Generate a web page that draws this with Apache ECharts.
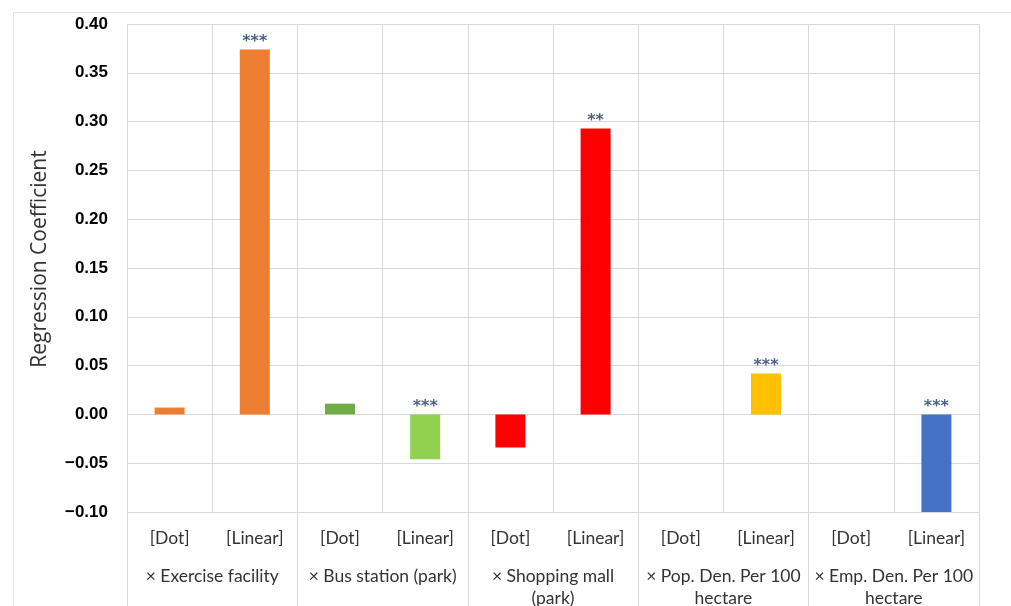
<!DOCTYPE html>
<html>
<head>
<meta charset="utf-8">
<title>Regression Coefficient</title>
<script src="https://cdn.jsdelivr.net/npm/echarts@6/dist/echarts.min.js"></script>
<style>
  html, body { margin: 0; padding: 0; background: #ffffff; }
  #chart { width: 1011px; height: 606px; }
</style>
</head>
<body>
<div id="chart"></div>
<script>
// Model terms (lower axis level) and interacted variables (upper axis level)
const terms = ['[Dot]', '[Linear]', '[Dot]', '[Linear]', '[Dot]', '[Linear]', '[Dot]', '[Linear]', '[Dot]', '[Linear]'];
const groups = [
  '× Exercise facility',
  '× Bus station (park)',
  '× Shopping mall\n(park)',
  '× Pop. Den. Per 100\nhectare',
  '× Emp. Den. Per 100\nhectare'
];

// Regression coefficients, one per term
const coefficients = [0.007, 0.374, 0.011, -0.046, -0.034, 0.293, null, 0.042, null, -0.10];

// Significance markers
const significance = ['', '***', '', '***', '', '**', '', '***', '', '***'];

// Bar fill per term
const barColors = ['#ED7D31', '#ED7D31', '#70AD47', '#92D050', '#FF0000', '#FF0000', '#FFC000', '#FFC000', '#4472C4', '#4472C4'];

// Value axis settings
const yMin = -0.10, yMax = 0.40, yStep = 0.05;

const gridColor = '#d9d9d9';
const catFont = 'Lato, "Open Sans", sans-serif';

const chart = echarts.init(document.getElementById('chart'), null, { renderer: 'canvas' });

const barData = coefficients.map((v, i) => ({
  value: v,
  itemStyle: { color: barColors[i] }
}));

// Markers sit just above the bar top, or above the zero line for negative bars
const starData = coefficients.map((v, i) => ({
  value: [i, v == null ? 0 : Math.max(v, 0)],
  label: { formatter: significance[i] }
}));

chart.setOption({
  animation: false,
  backgroundColor: '#ffffff',
  graphic: [{
    type: 'rect',
    shape: { x: 13.5, y: 12.5, width: 1100, height: 700 },
    style: { fill: 'none', stroke: '#e3e3e3', lineWidth: 1 },
    silent: true,
    z: -10
  }],
  grid: { left: 127, right: 32, top: 24, bottom: 94, containLabel: false, outerBoundsMode: 'none' },
  xAxis: [
    {
      type: 'category',
      data: terms,
      position: 'bottom',
      boundaryGap: true,
      axisLine: { show: true, lineStyle: { color: gridColor } },
      axisTick: { show: false },
      splitLine: { show: true, interval: 0, lineStyle: { color: gridColor } },
      axisLabel: {
        interval: 0,
        margin: 17,
        color: '#333333',
        fontFamily: catFont,
        fontSize: 17.5
      }
    },
    {
      type: 'category',
      data: groups,
      position: 'bottom',
      boundaryGap: true,
      axisLine: { show: false },
      axisTick: { show: true, interval: 0, length: 94, lineStyle: { color: gridColor } },
      splitLine: { show: false },
      axisLabel: {
        interval: 0,
        margin: 53,
        color: '#333333',
        fontFamily: catFont,
        fontSize: 17.5,
        lineHeight: 22,
        align: 'center'
      }
    }
  ],
  yAxis: {
    type: 'value',
    min: yMin,
    max: yMax,
    interval: yStep,
    name: 'Regression Coefficient',
    nameLocation: 'middle',
    nameRotate: 90,
    nameGap: 76,
    nameTextStyle: {
      fontFamily: '"Open Sans", Lato, sans-serif',
      fontSize: 21,
      color: '#333333',
      padding: [0, 0, 0, 18]
    },
    axisLine: { show: false },
    axisTick: { show: false },
    splitLine: { show: true, lineStyle: { color: gridColor } },
    axisLabel: {
      margin: 19,
      color: '#000000',
      fontFamily: '"Liberation Sans", Arial, sans-serif',
      fontWeight: 'bold',
      fontSize: 17,
      formatter: v => v.toFixed(2).replace('-', '\u2212')
    }
  },
  series: [
    {
      type: 'bar',
      xAxisIndex: 0,
      data: barData,
      barWidth: 30
    },
    {
      type: 'scatter',
      xAxisIndex: 0,
      data: starData,
      symbolSize: 1,
      itemStyle: { color: 'rgba(0,0,0,0)' },
      label: {
        show: true,
        position: 'top',
        distance: -1,
        color: '#1F3864',
        fontFamily: '"DejaVu Sans", sans-serif',
        fontWeight: 'bold',
        fontSize: 16
      },
      labelLayout: { hideOverlap: false },
      z: 5
    }
  ]
});
</script>
</body>
</html>
